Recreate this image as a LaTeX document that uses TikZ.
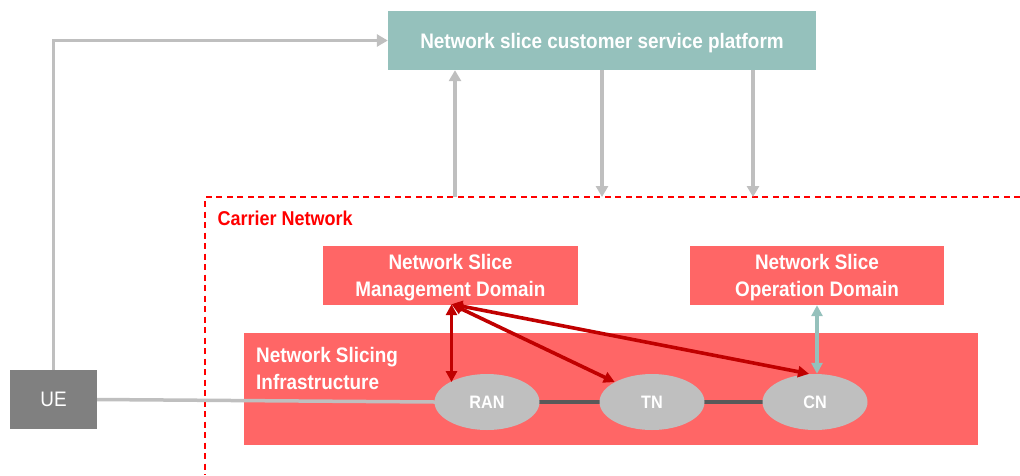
\documentclass[tikz,border=0pt]{standalone}
\usepackage{fontspec}
\setmainfont{Liberation Sans}[FakeStretch=0.9]
\usetikzlibrary{arrows.meta,shapes.geometric}

\definecolor{platform}{HTML}{95C1BC}
\definecolor{slice}{HTML}{FF6666}
\definecolor{mgmt}{HTML}{C00000}
\definecolor{link}{HTML}{BFBFBF}
\definecolor{core}{HTML}{595959}
\definecolor{ue}{HTML}{808080}

\begin{document}
\begin{tikzpicture}[x=1pt,y=-1pt,
    font=\bfseries\fontsize{21}{27}\selectfont,
    box/.style={text=white,align=center,inner sep=0pt,text depth=0pt},
    nf/.style={ellipse,fill=link,text=white,minimum width=105pt,minimum height=56pt,
      inner sep=0pt,font=\bfseries\fontsize{18}{20}\selectfont},
    feed/.style={link,line width=3.8pt,-{Triangle[length=11pt,width=12pt]}},
    ctrl/.style={mgmt,line width=3.6pt,{Triangle[length=11pt,width=11pt]}-{Triangle[length=11pt,width=11pt]}}]
  \useasboundingbox (0,0) rectangle (1020,475);

  \node[box,fill=platform,minimum width=428pt,minimum height=59pt] (csp) at (602,40.5)
    {Network slice customer service platform};

  % carrier network
  \coordinate (carrier) at (205,197);
  \draw[red,line width=1.3pt,dash pattern=on 6pt off 4.5pt] (1020,197) -- (carrier) -- (205,475);
  \node[anchor=west,text=red,font=\bfseries\fontsize{20}{24}\selectfont] (cnlabel) at (214,218)
    {Carrier Network};

  \node[box,fill=slice,minimum width=255pt,minimum height=59pt] (nsmd) at (450.5,275.5)
    {Network Slice\\Management Domain};
  \node[box,fill=slice,minimum width=254pt,minimum height=59pt] (nsod) at (817,275.5)
    {Network Slice\\Operation Domain};

  \node[fill=slice,minimum width=734pt,minimum height=112pt,inner sep=0pt] (nsi) at (611,389) {};
  \node[anchor=north west,text=white,align=left,inner sep=0pt] (nsilabel) at (256,347)
    {Network Slicing\\Infrastructure};

  \node[fill=ue,text=white,minimum width=87pt,minimum height=59pt,inner sep=0pt,text depth=0pt,
    font=\fontsize{21}{24}\selectfont] (ue) at (53.5,399.5) {UE};

  \coordinate (ran in) at (435,402);
  \draw[link,line width=3.5pt] (ue.east) -- (ran in);
  \draw[core,line width=4pt] (487,402) -- (815,402);

  \node[nf] (ran) at (487,402) {RAN};
  \node[nf] (tn) at (652,402) {TN};
  \node[nf] (cn) at (815,402) {CN};

  % to and from the platform
  \draw[feed] (ue.north) |- (csp.west);
  \coordinate (up) at (455,197);
  \coordinate (down a) at (602,197);
  \coordinate (down b) at (753,197);
  \draw[feed] (up) -- (up |- csp.south);
  \draw[feed] (down a |- csp.south) -- (down a);
  \draw[feed] (down b |- csp.south) -- (down b);

  % management
  \coordinate (hub) at ([xshift=1pt,yshift=1pt]nsmd.south);
  \draw[ctrl] (hub) -- (hub |- ran.north west);
  \draw[ctrl] (hub) -- (tn.north west);
  \draw[ctrl] (hub) -- ([xshift=-6pt]cn.north);
  \draw[platform,line width=3.6pt,{Triangle[length=11pt,width=11pt]}-{Triangle[length=11pt,width=11pt]}]
    (nsod.south) -- (nsod.south |- cn.north);
\end{tikzpicture}
\end{document}
